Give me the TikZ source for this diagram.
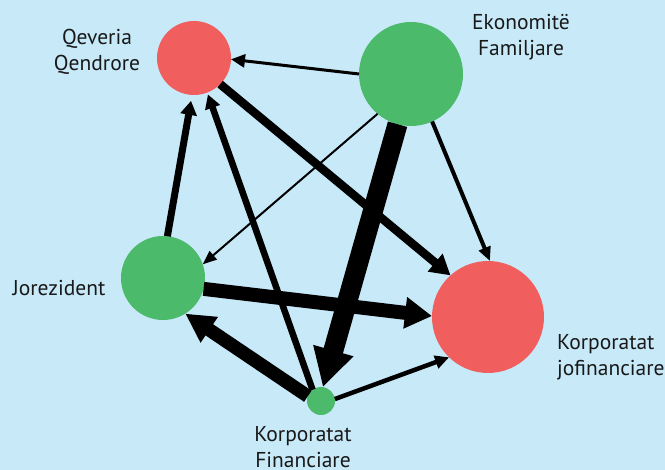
\documentclass[tikz,border=0pt]{standalone}
\usepackage{fontspec}
\setmainfont{PT Sans}
\usetikzlibrary{arrows.meta}
\definecolor{bgblue}{RGB}{199,233,248}
\definecolor{nodered}{RGB}{240,94,94}
\definecolor{nodegreen}{RGB}{75,186,107}
\tikzset{
  bubble/.style={circle,inner sep=0pt,outer sep=0pt,minimum size=#1},
  redb/.style={bubble=#1,fill=nodered},
  greenb/.style={bubble=#1,fill=nodegreen},
  lbl/.style={font=\fontsize{21.5}{26}\selectfont,text=black!90,inner sep=0pt,anchor=base},
  flow/.style n args={3}{draw=black,line width=#1,-{Triangle[length=#2,width=#3]}}
}
\begin{document}
\begin{tikzpicture}[x=1pt,y=-1pt]
\fill[bgblue] (0,0) rectangle (665,470);
\useasboundingbox (0,0) rectangle (665,470);
% nodes
\node[redb=74pt]   (QQ) at (194,58) {};
\node[greenb=104pt] (EF) at (411,74) {};
\node[greenb=84pt] (J)  at (163,278) {};
\node[redb=112pt]  (KJ) at (488,317) {};
\node[greenb=28pt] (KF) at (321,401) {};
% labels (base = baseline of last line)
\node[lbl,align=center] (QQl) at (97,71) {Qeveria\\Qendrore};
\node[lbl,align=center] (EFl) at (521,56) {Ekonomitë\\Familjare};
\node[lbl] (Jl) at (59,296) {Jorezident};
\node[lbl,align=left,anchor=base west] (KJl) at (557,376) {Korporatat\\jofinanciare};
\node[lbl,align=center] (KFl) at (303,468) {Korporatat\\Financiare};
% flows
\draw[flow={3pt}{14pt}{13pt}] (EF.180) -- (QQ.-2);
\draw[flow={2pt}{14pt}{11pt}] (EF.230) -- (J.19);
\draw[flow={4pt}{14pt}{12pt}] (EF.-66) -- (KJ.88);
\draw[flow={20pt}{38pt}{39pt}] (EF.-105) -- (KF.82);
\draw[flow={8.5pt}{20pt}{22pt}] (QQ.-45) -- (KJ.132.5);
\draw[flow={7pt}{14pt}{16pt},shorten >=6pt] (J.84) -- (QQ.-93);
\draw[flow={6.5pt}{14pt}{15pt},shorten >=2pt] (KF.127) -- (QQ.-69);
\draw[flow={14pt}{27pt}{30pt}] (J.-15) -- (KJ.179);
\draw[flow={13.5pt}{29pt}{29pt}] (KF.160) -- (J.-58);
\draw[flow={4.5pt}{14pt}{13pt}] (KF.8) -- (KJ.226);
\end{tikzpicture}
\end{document}
